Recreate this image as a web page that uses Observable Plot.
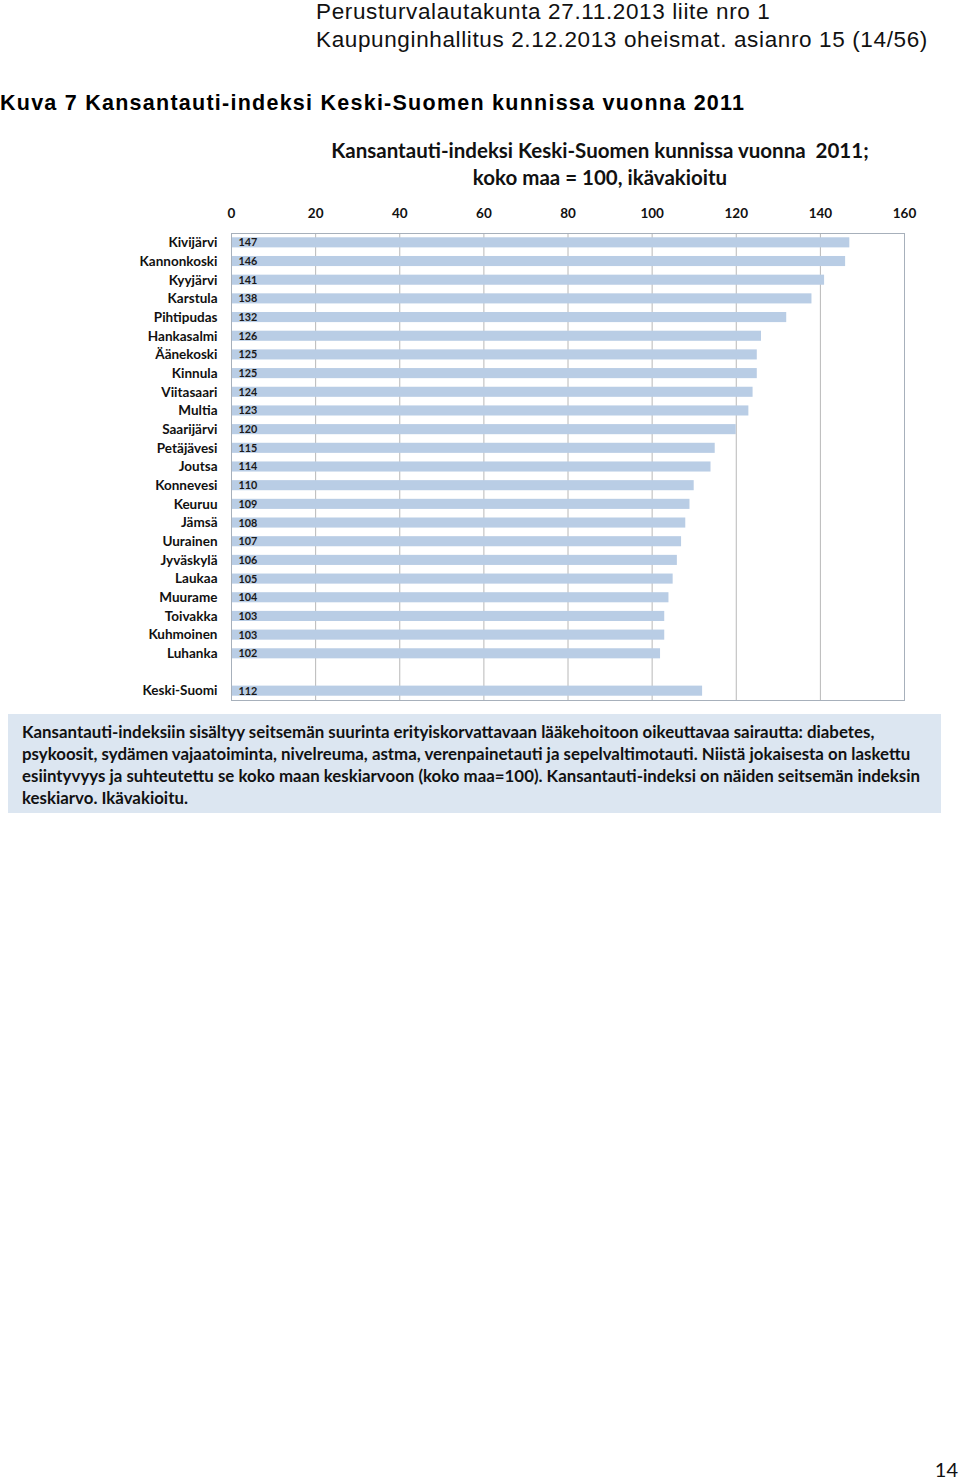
<!DOCTYPE html>
<html>
<head>
<meta charset="utf-8">
<script src="https://cdn.jsdelivr.net/npm/d3@7"></script>
<script src="https://cdn.jsdelivr.net/npm/@observablehq/plot@0.6"></script>
<style>
  html, body { margin: 0; padding: 0; background: #fff; }
  #page { position: relative; width: 960px; height: 1480px; overflow: hidden; }
  .hdr { position: absolute; left: 316px; font-family: "Liberation Sans", Arial, sans-serif; font-size: 22.5px; letter-spacing: 0.63px; color: #111; white-space: nowrap; line-height: 1; }
  #kuva { position: absolute; left: 0; top: 92.5px; font-family: "Liberation Sans", Arial, sans-serif; font-weight: bold; font-size: 21.5px; letter-spacing: 1.25px; color: #000; white-space: nowrap; line-height: 1; }
  #ctitle { position: absolute; left: 300px; width: 600px; top: 137px; text-align: center; font-family: Lato, sans-serif; font-weight: bold; font-size: 20.5px; line-height: 27px; color: #111; }
  #chart { position: absolute; left: 0; top: 195px; }
  #caption { position: absolute; left: 8px; top: 714px; width: 933px; height: 99px; background: #dce6f1; box-sizing: border-box; padding: 7px 0 0 14px; font-family: Lato, sans-serif; font-weight: bold; font-size: 16.85px; line-height: 22px; color: #111; white-space: nowrap; }
  #pnum { position: absolute; right: 2px; top: 1457px; font-family: Lato, sans-serif; font-size: 20px; color: #111; }
</style>
</head>
<body>
<div id="page">
  <div class="hdr" style="top:1px">Perusturvalautakunta 27.11.2013 liite nro 1</div>
  <div class="hdr" style="top:29px">Kaupunginhallitus 2.12.2013 oheismat. asianro 15 (14/56)</div>
  <div id="kuva">Kuva 7 Kansantauti-indeksi Keski-Suomen kunnissa vuonna 2011</div>
  <div id="ctitle">Kansantauti-indeksi Keski-Suomen kunnissa vuonna&nbsp; 2011;<br>koko maa = 100, ikävakioitu</div>
  <div id="chart"></div>
  <div id="caption">Kansantauti-indeksiin sisältyy seitsemän suurinta erityiskorvattavaan lääkehoitoon oikeuttavaa sairautta: diabetes,<br>psykoosit, sydämen vajaatoiminta, nivelreuma, astma, verenpainetauti ja sepelvaltimotauti. Niistä jokaisesta on laskettu<br>esiintyvyys ja suhteutettu se koko maan keskiarvoon (koko maa=100). Kansantauti-indeksi on näiden seitsemän indeksin<br>keskiarvo. Ikävakioitu.</div>
  <div id="pnum">14</div>
</div>
<script>
const municipalities = ["Kivijärvi","Kannonkoski","Kyyjärvi","Karstula","Pihtipudas","Hankasalmi","Äänekoski","Kinnula","Viitasaari","Multia","Saarijärvi","Petäjävesi","Joutsa","Konnevesi","Keuruu","Jämsä","Uurainen","Jyväskylä","Laukaa","Muurame","Toivakka","Kuhmoinen","Luhanka"];
const indexValues = [147,146,141,138,132,126,125,125,124,123,120,115,114,110,109,108,107,106,105,104,103,103,102];
const regionName = "Keski-Suomi";
const regionValue = 112;
const xTicks = [0,20,40,60,80,100,120,140,160];
const spacer = " ";

const rows = municipalities.map((n, i) => ({name: n, value: indexValues[i]}))
  .concat([{name: regionName, value: regionValue}]);
const yDomain = [...municipalities, spacer, regionName];

const chart = Plot.plot({
  width: 960,
  height: 510,
  marginLeft: 231,
  marginRight: 56,
  marginTop: 38,
  marginBottom: 5,
  style: {fontFamily: "Lato, sans-serif", fontWeight: "bold", fontSize: "13.5px", color: "#111", background: "transparent"},
  x: {domain: [0, 160], ticks: xTicks, axis: "top", tickSize: 0, tickPadding: 16, label: null},
  y: {domain: yDomain, tickSize: 0, tickPadding: 14, label: null, paddingInner: 0.46, paddingOuter: 0.23, round: false},
  marks: [
    Plot.gridX(xTicks.slice(1, -1), {stroke: "#b8b8b8", strokeOpacity: 1}),
    Plot.barX(rows, {x: "value", y: "name", fill: "#b9cde5"}),
    Plot.text(rows, {x: () => 0, y: "name", text: d => String(d.value), dx: 7, textAnchor: "start", fontSize: 10.8, fontWeight: "bold", fill: "#1a1a1a"}),
    Plot.ruleX([0], {stroke: "#9a9a9a"}),
    Plot.frame({stroke: "#a7b0bb"})
  ]
});
document.getElementById("chart").appendChild(chart);
</script>
</body>
</html>
